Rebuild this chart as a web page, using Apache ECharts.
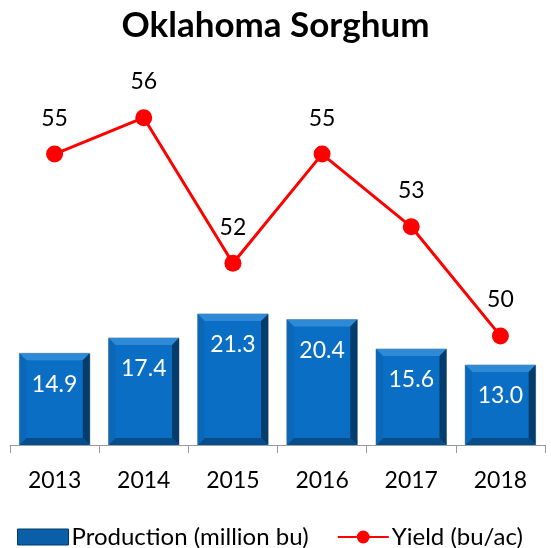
<!DOCTYPE html>
<html>
<head>
<meta charset="utf-8">
<script src="https://cdn.jsdelivr.net/npm/echarts@6/dist/echarts.min.js"></script>
<style>
  html, body { margin: 0; padding: 0; background: #fff; }
  #chart { width: 551px; height: 548px; }
</style>
</head>
<body>
<div id="chart"></div>
<script>
const years = ["2013", "2014", "2015", "2016", "2017", "2018"];
const production = [14.9, 17.4, 21.3, 20.4, 15.6, 13.0];
const yieldValues = [55, 56, 52, 55, 53, 50];

const chart = echarts.init(document.getElementById("chart"));
const font = "Lato, 'Liberation Sans', sans-serif";

function renderBevelBar(params, api) {
    const idx = api.value(0);
    const top = api.coord([idx, api.value(1)]);
    const base = api.coord([idx, 0]);
    const w = api.size([1, 0])[0] * 0.79;
    const x0 = top[0] - w / 2, x1 = top[0] + w / 2;
    const y0 = top[1], y1 = base[1];
    const b = 7;
    const poly = (points, fill) => ({type: "polygon", shape: {points}, style: {fill}});
    return {
        type: "group",
        children: [
            {type: "rect", shape: {x: x0, y: y0, width: w, height: y1 - y0},
             style: {fill: "#0a6fc4", stroke: "#9aa6b2", lineWidth: 1}},
            poly([[x0, y0], [x1, y0], [x1 - b, y0 + b], [x0 + b, y0 + b]], "#2f8ad6"),
            poly([[x1, y0], [x1, y1], [x1 - b, y1 - b], [x1 - b, y0 + b]], "#043c6c"),
            poly([[x0, y1], [x1, y1], [x1 - b, y1 - b], [x0 + b, y1 - b]], "#064d8a"),
            poly([[x0, y0], [x0 + b, y0 + b], [x0 + b, y1 - b], [x0, y1]], "#0b68b8"),
            {type: "text", style: {
                text: production[idx].toFixed(1), x: top[0], y: y0 + 31,
                align: "center", verticalAlign: "middle",
                fill: "#fff", font: "23px " + font}}
        ]
    };
}

chart.setOption({
    animation: false,
    title: {
        text: "Oklahoma Sorghum",
        left: "center",
        top: 3,
        textStyle: {fontFamily: font, fontSize: 35, fontWeight: "bold", color: "#000"}
    },
    legend: {
        bottom: -6,
        left: 12,
        itemGap: 28,
        itemWidth: 51,
        itemHeight: 16,
        textStyle: {fontFamily: font, fontSize: 24, color: "#000", padding: [0, 0, 0, -2]},
        data: [
            {name: "Production (million bu)", icon: "rect", itemStyle: {color: "#0a5fa8", borderColor: "#033a66", borderWidth: 1}},
            {name: "Yield (bu/ac)"}
        ]
    },
    grid: {left: 10, right: 6, top: 45, bottom: 103},
    xAxis: {
        type: "category",
        data: years,
        axisLine: {lineStyle: {color: "#999", width: 1}},
        axisTick: {show: true, length: 8, lineStyle: {color: "#999"}},
        axisLabel: {color: "#000", fontFamily: font, fontSize: 23, margin: 24}
    },
    yAxis: [
        {type: "value", min: 0, max: 65, show: false, splitLine: {show: false}},
        {type: "value", min: 47, max: 58, show: false, splitLine: {show: false}}
    ],
    series: [
        {
            name: "Production (million bu)",
            type: "custom",
            yAxisIndex: 0,
            itemStyle: {color: "#0a5fa8"},
            renderItem: renderBevelBar,
            encode: {x: 0, y: 1},
            data: production.map((v, i) => [i, v]),
            z: 2
        },
        {
            name: "Yield (bu/ac)",
            type: "line",
            yAxisIndex: 1,
            data: yieldValues,
            symbol: "circle",
            symbolSize: 17,
            lineStyle: {color: "#ff0000", width: 3},
            itemStyle: {color: "#ff0000"},
            label: {show: true, position: "top", distance: 16, color: "#000",
                    fontFamily: font, fontSize: 23},
            z: 3
        }
    ]
});
</script>
</body>
</html>
